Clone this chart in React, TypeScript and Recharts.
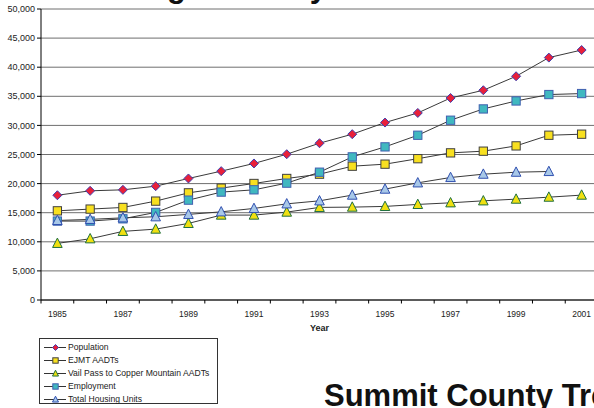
import React from 'react';
import { LineChart, Line, XAxis, YAxis, CartesianGrid, Legend, Label } from 'recharts';

const years = [1985, 1986, 1987, 1988, 1989, 1990, 1991, 1992, 1993, 1994, 1995, 1996, 1997, 1998, 1999, 2000, 2001];
const population = [18000, 18760, 18930, 19560, 20880, 22140, 23460, 25050, 26940, 28490, 30490, 32140, 34710, 36040, 38440, 41650, 42950];
const ejmt = [15320, 15620, 15900, 16990, 18410, 19220, 20020, 20880, 21620, 22990, 23340, 24280, 25280, 25570, 26480, 28310, 28490];
const vail = [9730, 10520, 11790, 12180, 13160, 14590, 14590, 15100, 15910, 15960, 16080, 16420, 16700, 17040, 17330, 17670, 18020];
const employment = [13560, 13560, 13950, 15050, 17160, 18540, 18930, 20080, 21960, 24590, 26310, 28310, 30890, 32830, 34200, 35300, 35470];
const housing: (number | null)[] = [13670, 13850, 14120, 14300, 14710, 15150, 15730, 16520, 17040, 18020, 19050, 20130, 21050, 21620, 21960, 22080, null];
const yTicks = [0, 5000, 10000, 15000, 20000, 25000, 30000, 35000, 40000, 45000, 50000];
const labeledYears = [1985, 1987, 1989, 1991, 1993, 1995, 1997, 1999, 2001];

const data = years.map((year, i) => ({
  year,
  population: population[i],
  ejmt: ejmt[i],
  vail: vail[i],
  employment: employment[i],
  housing: housing[i],
}));

type Shape = 'diamond' | 'square' | 'triangle';
const series: { key: string; name: string; shape: Shape; fill: string; stroke: string }[] = [
  { key: 'population', name: 'Population', shape: 'diamond', fill: '#e8203a', stroke: '#4040b0' },
  { key: 'ejmt', name: 'EJMT AADTs', shape: 'square', fill: '#f8e020', stroke: '#404040' },
  { key: 'vail', name: 'Vail Pass to Copper Mountain AADTs', shape: 'triangle', fill: '#f0e010', stroke: '#207040' },
  { key: 'employment', name: 'Employment', shape: 'square', fill: '#40b8c0', stroke: '#4060b0' },
  { key: 'housing', name: 'Total Housing Units', shape: 'triangle', fill: '#a8c8e8', stroke: '#3050b0' },
];

const FONT = '"Liberation Sans", Arial, sans-serif';
const W = 610;
const H = 408;
const PLOT_LEFT = 41;
const PLOT_RIGHT = 598;
const BAND = (PLOT_RIGHT - PLOT_LEFT) / years.length;

function marker(shape: Shape, cx: number, cy: number, fill: string, stroke: string, s: number, key?: any) {
  if (shape === 'diamond') {
    return (
      <polygon key={key} points={`${cx},${cy - s} ${cx + s},${cy} ${cx},${cy + s} ${cx - s},${cy}`} fill={fill} stroke={stroke} strokeWidth={1} />
    );
  }
  if (shape === 'square') {
    const h = s * 0.9;
    return <rect key={key} x={cx - h} y={cy - h} width={h * 2} height={h * 2} fill={fill} stroke={stroke} strokeWidth={1} />;
  }
  return (
    <polygon
      key={key}
      points={`${cx},${cy - s * 1.1} ${cx + s},${cy + s * 0.85} ${cx - s},${cy + s * 0.85}`}
      fill={fill}
      stroke={stroke}
      strokeWidth={1}
    />
  );
}

const XTick = (props: any) => {
  const { x, y, payload } = props;
  const left = x - BAND / 2;
  const show = labeledYears.includes(payload.value);
  return (
    <g>
      <line x1={left} x2={left} y1={y} y2={y + 3.5} stroke="#000" strokeWidth={1} />
      {show && (
        <text x={x} y={y + 16.5} textAnchor="middle" fontSize={8.5} fontFamily={FONT} fill="#222">
          {payload.value}
        </text>
      )}
    </g>
  );
};

const LegendContent = () => {
  return (
    <div
      style={{
        border: '1px solid #333',
        background: '#fff',
        width: 177,
        height: 60,
        paddingTop: 2,
        paddingBottom: 2,
      }}
    >
      {series.map((s, i) => (
        <div key={i} style={{ display: 'flex', alignItems: 'center', height: 13 }}>
          <svg width={28} height={13} style={{ display: 'block' }}>
            <line x1={4} x2={26} y1={6.5} y2={6.5} stroke="#333" strokeWidth={1} />
            {marker(s.shape, 15.5, 6.5, s.fill, s.stroke, 3)}
          </svg>
          <span style={{ fontSize: 8.6, fontFamily: FONT, color: '#222', lineHeight: '13px', whiteSpace: 'nowrap' }}>{s.name}</span>
        </div>
      ))}
    </div>
  );
};

export default function App() {
  return (
    <div style={{ position: 'absolute', left: 0, top: 0, width: 594, height: 408, overflow: 'hidden', background: '#fff' }}>
      <LineChart width={W} height={H} data={data} margin={{ top: 9, right: W - PLOT_RIGHT, bottom: 78, left: 0 }}>
        <CartesianGrid vertical={false} stroke="#6e6e6e" strokeWidth={1} />
        <XAxis
          dataKey="year"
          type="number"
          domain={[years[0] - 0.5, years[years.length - 1] + 0.5]}
          ticks={years}
          interval={0}
          allowDataOverflow
          height={30}
          tickLine={false}
          tickSize={0}
          tickMargin={0}
          axisLine={{ stroke: '#000' }}
          tick={<XTick />}
        >
          <Label value="Year" position="insideBottom" offset={-1} style={{ fontSize: 9, fontWeight: 'bold', fontFamily: FONT, fill: '#222' }} />
        </XAxis>
        <YAxis
          width={PLOT_LEFT}
          domain={[0, 50000]}
          ticks={yTicks}
          interval={0}
          tickSize={4}
          tickMargin={2}
          axisLine={{ stroke: '#000' }}
          tickLine={{ stroke: '#000' }}
          tick={{ fontSize: 9, fontFamily: FONT, fill: '#222' }}
          tickFormatter={(v: number) => v.toLocaleString('en-US')}
        />
        <Legend
          layout="horizontal"
          verticalAlign="middle"
          align="center"
          content={<LegendContent />}
          wrapperStyle={{ left: 39, top: 338, width: 179, height: 66 }}
        />
        {series.map((s) => (
          <Line
            key={s.key}
            dataKey={s.key}
            name={s.name}
            stroke="#3a3a3a"
            strokeWidth={1}
            isAnimationActive={false}
            dot={(p: any) => {
              if (p.cx == null || p.cy == null || p.value == null) return <g key={p.key} />;
              return marker(s.shape, p.cx, p.cy, s.fill, s.stroke, s.shape === 'diamond' ? 4.5 : s.shape === 'square' ? 4.6 : 4.8, p.key);
            }}
            activeDot={false}
          />
        ))}
      </LineChart>
      <svg width={594} height={408} style={{ position: 'absolute', left: 0, top: 0, pointerEvents: 'none' }}>
        <text x={129} y={-3.3} fontSize={31} fontWeight="bold" fontFamily={FONT} fill="#111">
          Eagle County
        </text>
        <text x={324} y={406} fontSize={31} fontWeight="bold" fontFamily={FONT} fill="#111">
          Summit County Trends
        </text>
      </svg>
    </div>
  );
}
